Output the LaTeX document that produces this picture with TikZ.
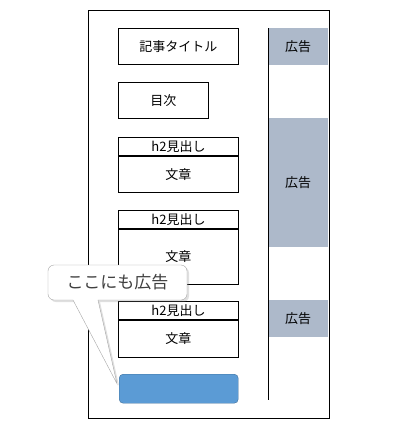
\documentclass[tikz,border=0pt]{standalone}
\usepackage{fontspec}
\setmainfont{Noto Sans CJK JP}
\usepackage{tikz}
\usetikzlibrary{positioning, shadows, calc}
\definecolor{adgray}{RGB}{173, 185, 202}
\definecolor{adblue}{RGB}{91, 155, 213}
\definecolor{adblueline}{RGB}{65, 113, 156}

\tikzset{
    box/.style={draw, line width=0.9pt, fill=white, anchor=north west, inner sep=0pt, font=\fontsize{13}{15}\selectfont},
    headbox/.style={box, minimum width=120pt, minimum height=18pt},
    adbox/.style={fill=adgray, anchor=north west, inner sep=0pt, minimum width=60pt, font=\fontsize{13}{15}\selectfont},
}

\begin{document}
\begin{tikzpicture}[x=1pt, y=-1pt]
    % Page size
    \useasboundingbox (0,0) rectangle (409,429);
    \fill[white] (0,0) rectangle (409,429);

    % Page frame
    \draw (88,10) rectangle (329,418);

    % ==== Main column ====
    \node[box, minimum width=120pt, minimum height=36pt] (title) at (118,28) {記事タイトル};
    \node[box, minimum width=90pt, minimum height=36pt] (toc) at (118,82) {目次};

    % Section 1
    \node[headbox] (head1) at (118,137) {h2見出し};
    \node[box, minimum width=120pt, minimum height=36pt, below=0pt of head1.south west, anchor=north west] (text1) {文章};

    % Section 2
    \node[headbox] (head2) at (118,210) {h2見出し};
    \node[box, minimum width=120pt, minimum height=55pt, below=0pt of head2.south west, anchor=north west] (text2) {文章};

    % Section 3
    \node[headbox] (head3) at (118,301) {h2見出し};
    \node[box, minimum width=120pt, minimum height=37pt, below=0pt of head3.south west, anchor=north west] (text3) {文章};

    % Ad slot under the article
    \node[fill=adblue, draw=adblueline, rounded corners=4pt, anchor=north west,
          minimum width=119pt, minimum height=29pt] (bottomad) at (119,374) {};

    % ==== Sidebar ====
    \node[adbox, minimum height=37pt] (ad1) at (268,28) {広告};
    \node[adbox, minimum height=129pt] (ad2) at (268,118) {広告};
    \node[adbox, minimum height=37pt] (ad3) at (268,300) {広告};
    \draw (268,28) -- (268,400);

    % ==== Callout ====
    \coordinate (tip) at ($(bottomad.west)+(-2,-5)$);
    \draw[gray!70, fill=white, rounded corners=6pt,
          drop shadow={shadow xshift=2pt, shadow yshift=-2pt, opacity=0.25}]
        (98,300) -- (187,300) -- (187,265) -- (48,265) -- (48,300) [sharp corners] -- (73,300) -- (tip) -- cycle;
    \node[font=\fontsize{17}{20}\selectfont, text=black!75] (note) at (117.5,282) {ここにも広告};
\end{tikzpicture}
\end{document}
